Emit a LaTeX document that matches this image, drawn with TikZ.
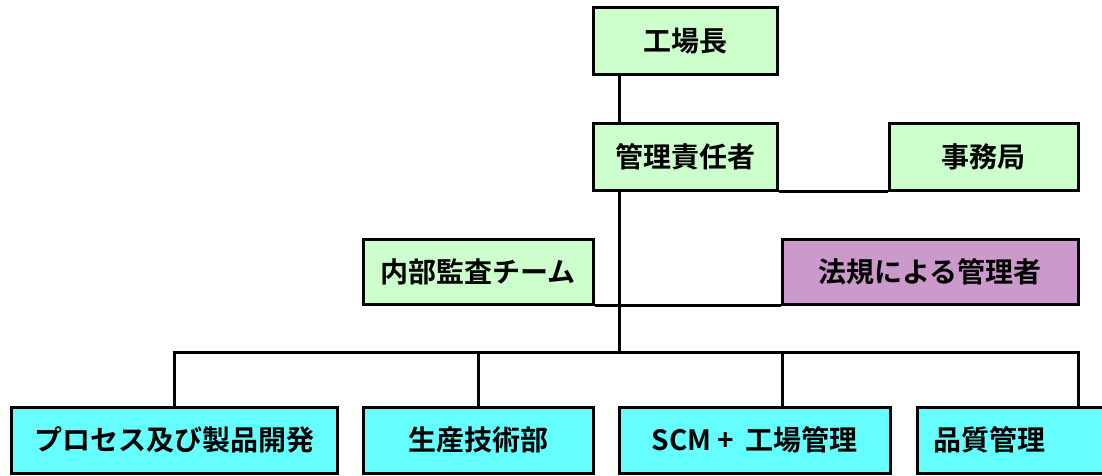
\documentclass[tikz,border=0pt]{standalone}
\usepackage{fontspec}
\newfontfamily\jpfont{Noto Sans CJK JP Bold}
\definecolor{boxgreen}{HTML}{CCFFCC}
\definecolor{boxpurple}{HTML}{CC99CC}
\definecolor{boxcyan}{HTML}{66FFFF}
\tikzset{
  orgbox/.style={draw=black, line width=3pt, rectangle, inner sep=0pt,
    font=\jpfont\fontsize{28}{30}\selectfont, text=black},
  greenbox/.style={orgbox, fill=boxgreen},
  purplebox/.style={orgbox, fill=boxpurple},
  cyanbox/.style={orgbox, fill=boxcyan},
  conn/.style={draw=black, line width=3pt}
}
\begin{document}
\begin{tikzpicture}[x=1pt, y=-1pt]
\useasboundingbox (0,0) rectangle (1102,476);
\clip (0,0) rectangle (1102,476);
\fill[white] (0,0) rectangle (1102,476);
% coordinates for connector routing
\coordinate (trunk) at (619,0);
\coordinate (bus) at (0,352);
% nodes
\node[greenbox, minimum width=184pt, minimum height=67pt] (gm) at (685,41.5) {工場長};
\node[greenbox, minimum width=184pt, minimum height=66pt] (mr) at (685,157) {管理責任者};
\node[greenbox, minimum width=189pt, minimum height=66pt] (jm) at (983.5,157) {事務局};
\node[greenbox, minimum width=230pt, minimum height=65pt] (audit) at (478,271.5) {内部監査チーム};
\node[purplebox, minimum width=296pt, minimum height=65pt] (legal) at (930,271.5) {法規による管理者};
\node[cyanbox, minimum width=326pt, minimum height=66pt] (proc) at (174,440) {プロセス及び製品開発};
\node[cyanbox, minimum width=230pt, minimum height=66pt] (prod) at (478,440) {生産技術部};
\node[cyanbox, minimum width=271pt, minimum height=66pt] (scm) at (754.5,440) {SCM + \,工場管理};
\node[cyanbox, minimum width=208pt, minimum height=66pt, text width=176pt, inner xsep=16pt, align=left] (qa) at (1021,440) {品質管理};
\coordinate (qadrop) at (1078,0);
\coordinate (scmdrop) at (782,0);
% connectors
\draw[conn] (gm.south -| trunk) -- (mr.north -| trunk);
\draw[conn] (mr.south -| trunk) -- (bus -| trunk);
\draw[conn] (mr.south east) -- (jm.south west);
\draw[conn] (audit.south east) -- (legal.south west);
\draw[conn] (proc.north) -- (proc.north |- bus) -- (qadrop |- bus) -- (qadrop |- qa.north);
\draw[conn] (prod.north |- bus) -- (prod.north);
\draw[conn] (scmdrop |- bus) -- (scmdrop |- scm.north);
\end{tikzpicture}
\end{document}
